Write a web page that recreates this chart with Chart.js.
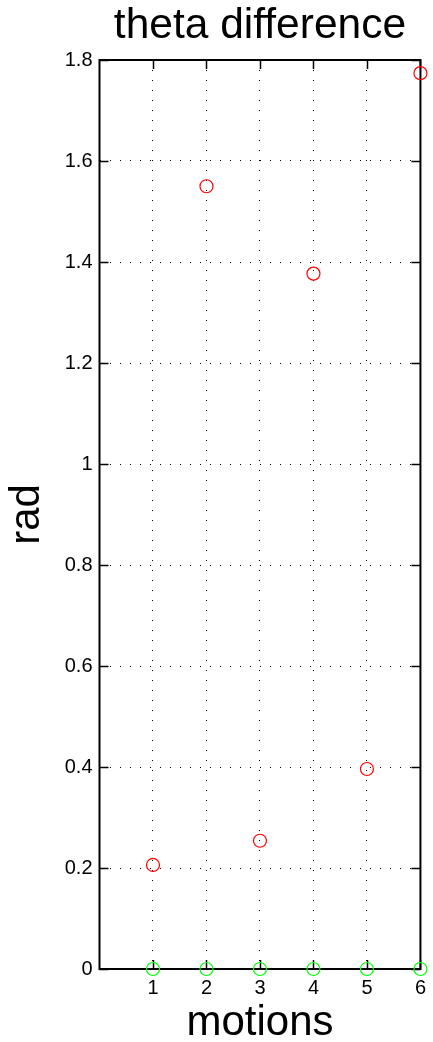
<!DOCTYPE html>
<html>
<head>
<meta charset="utf-8">
<script src="https://cdn.jsdelivr.net/npm/chart.js@4"></script>
<style>
  html, body { margin: 0; padding: 0; background: #fff; }
  #wrap { width: 433px; height: 1042px; }
</style>
</head>
<body>
<div id="wrap"><canvas id="c" width="433" height="1042"></canvas></div>
<script>
// Motion indices along x
const motions = [1, 2, 3, 4, 5, 6];
// Measured theta difference per motion (rad)
const thetaDiff = [0.206, 1.55, 0.254, 1.377, 0.396, 1.774];
// Reference (zero) difference per motion
const zeroDiff = [0, 0, 0, 0, 0, 0];
// Tick values
const xTicks = [1, 2, 3, 4, 5, 6];
const yTicks = [0, 0.2, 0.4, 0.6, 0.8, 1, 1.2, 1.4, 1.6, 1.8];

const FONT = '"Liberation Sans", Helvetica, Arial, sans-serif';
const TICK_LEN = 9;

// Title, box frame and inward tick marks
const frame = {
  id: 'frame',
  beforeDatasetsDraw(chart) {
    const { ctx, chartArea: a, scales: { x, y } } = chart;
    ctx.save();
    ctx.strokeStyle = '#000';
    ctx.lineWidth = 1.5;
    ctx.beginPath();
    xTicks.forEach(v => {
      const px = Math.round(x.getPixelForValue(v)) + 0.5;
      ctx.moveTo(px, a.bottom); ctx.lineTo(px, a.bottom - TICK_LEN);
      ctx.moveTo(px, a.top); ctx.lineTo(px, a.top + TICK_LEN);
    });
    yTicks.forEach(v => {
      const py = Math.round(y.getPixelForValue(v)) + 0.5;
      ctx.moveTo(a.left, py); ctx.lineTo(a.left + TICK_LEN, py);
      ctx.moveTo(a.right, py); ctx.lineTo(a.right - TICK_LEN, py);
    });
    ctx.stroke();
    ctx.lineWidth = 2;
    ctx.strokeRect(a.left, a.top, a.right - a.left, a.bottom - a.top);
    ctx.restore();
  },
  afterDraw(chart) {
    const { ctx, chartArea: a } = chart;
    ctx.save();
    ctx.fillStyle = '#000';
    ctx.font = '42.5px ' + FONT;
    ctx.textAlign = 'center';
    ctx.textBaseline = 'alphabetic';
    ctx.fillText('theta difference', (a.left + a.right) / 2, 38);
    ctx.restore();
  }
};

new Chart(document.getElementById('c'), {
  type: 'scatter',
  data: {
    datasets: [
      {
        label: 'theta difference',
        data: motions.map((m, i) => ({ x: m, y: thetaDiff[i] })),
        pointStyle: 'circle',
        pointRadius: 6.5,
        pointBorderWidth: 1.2,
        pointBorderColor: '#ff0000',
        pointBackgroundColor: 'rgba(0,0,0,0)',
        clip: false
      },
      {
        label: 'zero',
        data: motions.map((m, i) => ({ x: m, y: zeroDiff[i] })),
        pointStyle: 'circle',
        pointRadius: 6.5,
        pointBorderWidth: 1.2,
        pointBorderColor: '#00ff00',
        pointBackgroundColor: 'rgba(0,0,0,0)',
        clip: false
      }
    ]
  },
  options: {
    responsive: false,
    animation: false,
    events: [],
    layout: { padding: { top: 60, right: 12, left: 0, bottom: 0 } },
    plugins: { legend: { display: false }, tooltip: { enabled: false }, title: { display: false } },
    scales: {
      x: {
        type: 'linear',
        min: 0, max: 6,
        afterBuildTicks(scale) { scale.ticks = [0].concat(xTicks).map(v => ({ value: v })); },
        afterFit(scale) { scale.height = 73; },
        ticks: {
          color: '#000',
          font: { family: FONT, size: 20 },
          padding: 7,
          maxRotation: 0,
          callback: v => (v === 0 ? '' : String(v))
        },
        grid: { color: '#000', lineWidth: 1, drawTicks: false },
        border: { display: false, dash: [1, 9] },
        title: {
          display: true,
          text: 'motions',
          color: '#000',
          font: { family: FONT, size: 42, lineHeight: 0.9 },
          padding: { top: 0, bottom: 0 }
        }
      },
      y: {
        type: 'linear',
        min: 0, max: 1.8,
        afterBuildTicks(scale) { scale.ticks = yTicks.map(v => ({ value: v })); },
        afterFit(scale) { scale.width = 99.5; },
        ticks: {
          color: '#000',
          font: { family: FONT, size: 20 },
          padding: 7,
          callback: v => String(Number(v.toFixed(1)))
        },
        grid: { color: '#000', lineWidth: 1, drawTicks: false },
        border: { display: false, dash: [1, 9] },
        title: {
          display: true,
          text: 'rad',
          color: '#000',
          font: { family: FONT, size: 42, lineHeight: 1 },
          padding: { top: 6, bottom: 0 }
        }
      }
    }
  },
  plugins: [frame]
});
</script>
</body>
</html>
